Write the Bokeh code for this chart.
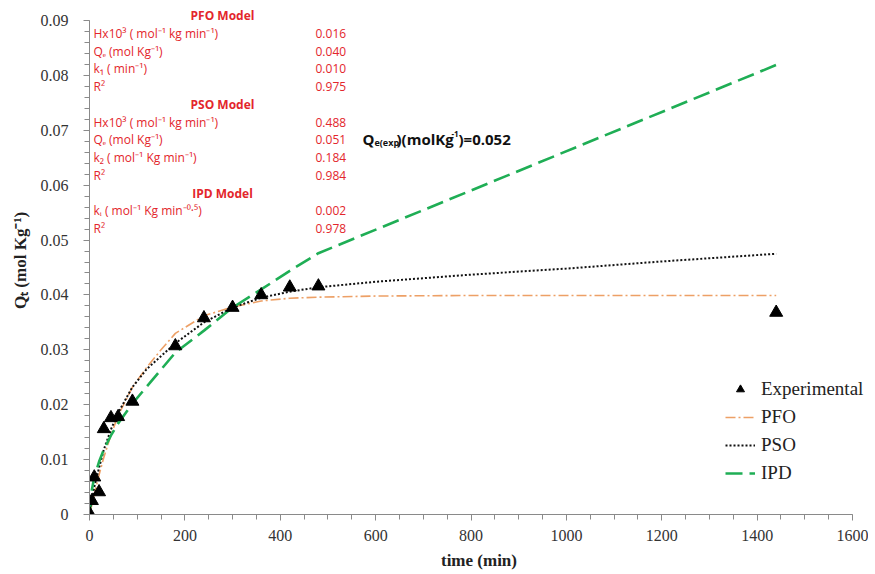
from bokeh.plotting import figure
from bokeh.models import Range1d, Legend, LegendItem, FixedTicker, Label
from bokeh.embed import file_html
from bokeh.resources import INLINE

# ---- data ----
time_exp = [0, 5, 10, 20, 30, 45, 60, 90, 180, 240, 300, 360, 420, 480, 1440]
q_exp = [0.0002, 0.0025, 0.0068, 0.0041, 0.0156, 0.0176, 0.0178, 0.0206,
         0.0307, 0.0358, 0.0377, 0.0400, 0.0414, 0.0416, 0.0368]

time_pfo = [0, 10, 20, 30, 45, 60, 90, 120, 150, 180, 240, 300, 360, 420,
            480, 600, 800, 1000, 1200, 1440]
q_pfo = [0.0, 0.0036, 0.0072, 0.0104, 0.0145, 0.0180, 0.0232, 0.0268, 0.0300,
         0.0330, 0.0362, 0.0378, 0.0389, 0.0394, 0.0396, 0.0398, 0.0399,
         0.0399, 0.0399, 0.0399]

time_pso = [0, 5, 10, 20, 30, 45, 60, 90, 120, 180, 240, 300, 360, 420, 480,
            600, 800, 1000, 1200, 1440]
q_pso = [0.0, 0.0025, 0.0050, 0.0085, 0.0118, 0.0155, 0.0185, 0.0232, 0.0265,
         0.0312, 0.0350, 0.0377, 0.0395, 0.0406, 0.0414, 0.0424, 0.0437,
         0.0448, 0.0461, 0.0475]

time_ipd = [0, 5, 10, 20, 30, 45, 60, 90, 180, 240, 300, 360, 420, 480, 1440]
q_ipd = [0.0, 0.0045, 0.0068, 0.0096, 0.0118, 0.0144, 0.0166, 0.0202, 0.0295,
         0.0335, 0.0377, 0.0410, 0.0444, 0.0476, 0.0819]

x_ticks = [0, 200, 400, 600, 800, 1000, 1200, 1400, 1600]
y_ticks = [0, 0.01, 0.02, 0.03, 0.04, 0.05, 0.06, 0.07, 0.08, 0.09]

table_headers = ["PFO Model", "PSO Model", "IPD Model"]
table_labels = [
    ["Hx10³  ( mol⁻¹ kg min⁻¹)", "Qₑ (mol Kg⁻¹)", "k₁ ( min⁻¹)", "R²"],
    ["Hx10³  ( mol⁻¹ kg min⁻¹)", "Qₑ (mol Kg⁻¹)", "k₂ ( mol⁻¹ Kg min⁻¹)", "R²"],
    ["kᵢ ( mol⁻¹ Kg min⁻⁰·⁵)", "R²"],
]
table_values = [
    ["0.016", "0.040", "0.010", "0.975"],
    ["0.488", "0.051", "0.184", "0.984"],
    ["0.002", "0.978"],
]
# Qe(exp) annotation pieces: (text, size, pixel dx, pixel dy)
qe_exp_parts = [("Q", "15px", 0, 0), ("e(exp", "9px", 12, -4),
                (")(molKg", "15px", 34, 0), ("-1", "8px", 89, 5),
                (")=0.052", "15px", 96, 0)]

# ---- figure geometry (pixels) ----
FL, FT, FB = 89, 6, 59
AX_W, AX_H = 763, 494        # pixel span of 0..1600 and 0..0.09
EXT_R, EXT_T = 16, 14        # frame extends beyond the axis ends
FW, FH = AX_W + EXT_R, AX_H + EXT_T
x_end = 1600 * FW / AX_W
y_end = 0.09 * FH / AX_H

p = figure(width=FL + FW, height=FT + FH + FB, output_backend="svg",
           toolbar_location=None,
           x_range=Range1d(0, x_end), y_range=Range1d(0, y_end),
           min_border_left=FL, min_border_right=0, min_border_top=FT,
           min_border_bottom=FB)
p.outline_line_color = None
p.xgrid.visible = False
p.ygrid.visible = False
p.background_fill_color = "white"
p.border_fill_color = "white"

serif = "Liberation Serif"
for ax in (p.xaxis[0], p.yaxis[0]):
    ax.axis_line_color = "#8a8a8a"
    ax.major_tick_line_color = "#8a8a8a"
    ax.minor_tick_line_color = "#8a8a8a"
    ax.major_tick_in = 0
    ax.major_tick_out = 6
    ax.minor_tick_in = 0
    ax.minor_tick_out = 5
    ax.major_label_text_font = serif
    ax.major_label_text_font_size = "16px"
    ax.major_label_text_color = "#333333"
    ax.axis_label_text_font = serif
    ax.axis_label_text_font_style = "bold"
    ax.axis_label_text_font_size = "17px"
    ax.axis_label_text_color = "#222222"

p.xaxis.bounds = (0, 1600)
p.yaxis.bounds = (0, 0.09)
p.xaxis.ticker = FixedTicker(ticks=x_ticks,
                             minor_ticks=[i * 50 for i in range(0, 33)])
p.yaxis.ticker = FixedTicker(ticks=y_ticks,
                             minor_ticks=[i * 0.002 for i in range(0, 46)])
p.yaxis.major_label_overrides = {t: ("0" if t == 0 else f"{t:.2f}") for t in y_ticks}
p.xaxis.axis_label = "time (min)"
p.yaxis.axis_label = "Qₜ (mol Kg⁻¹)"
p.xaxis.major_label_standoff = 9
p.xaxis.axis_label_standoff = 7
p.yaxis.major_label_standoff = 15
p.yaxis.axis_label_standoff = 8

r_pfo = p.line(time_pfo, q_pfo, line_color="#eda066", line_width=1.6,
               line_dash="10 3 2 3")
r_pso = p.line(time_pso, q_pso, line_color="#111111", line_width=2,
               line_dash="2 2")
r_ipd = p.line(time_ipd, q_ipd, line_color="#1fae55", line_width=2.6,
               line_dash="17 7")
r_exp = p.scatter(time_exp, q_exp, marker="triangle", size=13,
                  fill_color="black", line_color="black")

legend = Legend(items=[
    LegendItem(label="Experimental", renderers=[r_exp]),
    LegendItem(label="PFO", renderers=[r_pfo]),
    LegendItem(label="PSO", renderers=[r_pso]),
    LegendItem(label="IPD", renderers=[r_ipd]),
], location=(636, 30))
legend.label_text_font = serif
legend.label_text_font_size = "19px"
legend.label_text_color = "#222222"
legend.glyph_width = 30
legend.glyph_height = 20
legend.label_height = 20
legend.spacing = 6
legend.padding = 4
legend.margin = 0
legend.label_standoff = 6
legend.border_line_color = None
legend.background_fill_alpha = 0
p.add_layout(legend, "center")

# ---- table annotation (positions in data units) ----
px_x = 1600 / AX_W
px_y = 0.09 / AX_H
AXIS_TOP = FT + EXT_T   # page y of the 0.09 tick


def ydat(page_y):
    return 0.09 - (page_y - AXIS_TOP) * px_y


red = "#e3262c"
font_tab = "Open Sans"
row = 0
for h, labs, vals in zip(table_headers, table_labels, table_values):
    p.add_layout(Label(x=133 * px_x, y=ydat(15 + row * 17.75), text=h,
                       text_font=font_tab, text_font_size="12px",
                       text_font_style="bold", text_color=red,
                       text_align="center", text_baseline="middle"))
    row += 1
    for lab, val in zip(labs, vals):
        yy = ydat(15 + row * 17.75)
        p.add_layout(Label(x=4 * px_x, y=yy, text=lab, text_font=font_tab,
                           text_font_size="12px", text_color=red,
                           text_align="left", text_baseline="middle"))
        p.add_layout(Label(x=226 * px_x, y=yy, text=val, text_font=font_tab,
                           text_font_size="12px", text_color=red,
                           text_align="left", text_baseline="middle"))
        row += 1

for txt, size, dx, dy in qe_exp_parts:
    p.add_layout(Label(x=(273 + dx) * px_x, y=ydat(138 - dy), text=txt,
                       text_font=font_tab, text_font_size=size,
                       text_font_style="bold", text_color="#111111",
                       text_align="left", text_baseline="middle"))

open("out.html", "w").write(file_html(p, INLINE))
